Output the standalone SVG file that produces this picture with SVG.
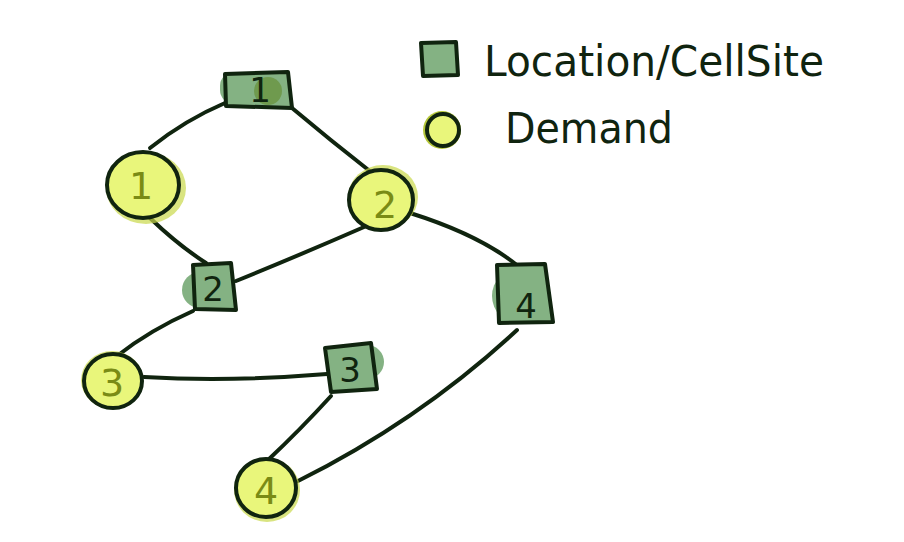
<svg xmlns="http://www.w3.org/2000/svg" width="904" height="542" viewBox="0 0 904 542">
<style>
.loc{fill:#84b283;stroke:#10240f;stroke-width:4;stroke-linejoin:round}
.dem{fill:#e9f67b;stroke:#10240f;stroke-width:4}
.halo{fill:#c9d94a;opacity:0.7}
.blob{fill:#84b283}
.edge{fill:none;stroke:#10240f;stroke-width:4;stroke-linecap:round}
.ltxt{font-family:"DejaVu Sans",sans-serif;font-size:34px;fill:#10240f;text-anchor:middle}
.dtxt{font-family:"DejaVu Sans",sans-serif;font-size:38px;fill:#7a8b15;text-anchor:middle}
.leg{font-family:"DejaVu Sans",sans-serif;font-size:42px;fill:#10240f}
</style>
<rect width="904" height="542" fill="#ffffff"/>
<g id="connectors">
<path class="edge" d="M225 103 Q185 120 150 148"/>
<path class="edge" d="M292 108 Q330 140 371 172"/>
<path class="edge" d="M150 218 Q178 245 206 263"/>
<path class="edge" d="M371 224 Q300 255 236 281"/>
<path class="edge" d="M410 213 Q480 235 518 266"/>
<path class="edge" d="M193 311 Q150 330 117 356"/>
<path class="edge" d="M144 377 Q230 382 327 374"/>
<path class="edge" d="M331 396 Q300 430 268 460"/>
<path class="edge" d="M517 330 Q420 420 298 481"/>
</g>
<g id="loc1">
<rect class="blob" x="220" y="72" width="60" height="32" rx="14"/>
<path class="loc" d="M225 74 L288 72 L292 108 L226 106 Z"/>
<circle cx="268" cy="91" r="14" fill="#6f9a4e"/>
<text class="ltxt" x="260" y="102">1</text>
</g>
<g id="loc2">
<circle class="blob" cx="200" cy="290" r="18"/>
<path class="loc" d="M193 265 L231 263 L236 310 L195 309 Z"/>
<text class="ltxt" x="213" y="301">2</text>
</g>
<g id="loc3">
<circle class="blob" cx="367" cy="362" r="17"/>
<path class="loc" d="M325 348 L371 343 L377 389 L331 392 Z"/>
<text class="ltxt" x="350" y="382">3</text>
</g>
<g id="loc4">
<circle class="blob" cx="520" cy="296" r="28"/>
<path class="loc" d="M497 265 L545 264 L553 322 L499 323 Z"/>
<text class="ltxt" x="526" y="318">4</text>
</g>
<g id="dem1">
<ellipse class="halo" cx="146" cy="188" rx="40" ry="36"/>
<ellipse class="dem" cx="143" cy="185" rx="36" ry="33"/>
<text class="dtxt" x="141" y="199">1</text>
</g>
<g id="dem2">
<ellipse class="halo" cx="383" cy="197" rx="35" ry="32"/>
<ellipse class="dem" cx="381" cy="200" rx="32" ry="30"/>
<text class="dtxt" x="385" y="218">2</text>
</g>
<g id="dem3">
<ellipse class="halo" cx="112" cy="380" rx="31" ry="29"/>
<ellipse class="dem" cx="113" cy="381" rx="29" ry="27"/>
<text class="dtxt" x="112" y="396">3</text>
</g>
<g id="dem4">
<ellipse class="halo" cx="267" cy="490" rx="33" ry="32"/>
<ellipse class="dem" cx="266" cy="488" rx="30" ry="29"/>
<text class="dtxt" x="266" y="504">4</text>
</g>
<g id="legend">
<path class="loc" d="M421 43 L456 42 L458 75 L423 76 Z"/>
<text class="leg" x="484" y="76" textLength="340" lengthAdjust="spacingAndGlyphs">Location/CellSite</text>
<circle cx="442" cy="130" r="19" fill="#b5c73a"/>
<circle class="dem" cx="443" cy="130" r="16"/>
<text class="leg" x="505" y="143" textLength="168" lengthAdjust="spacingAndGlyphs">Demand</text>
</g>
</svg>
